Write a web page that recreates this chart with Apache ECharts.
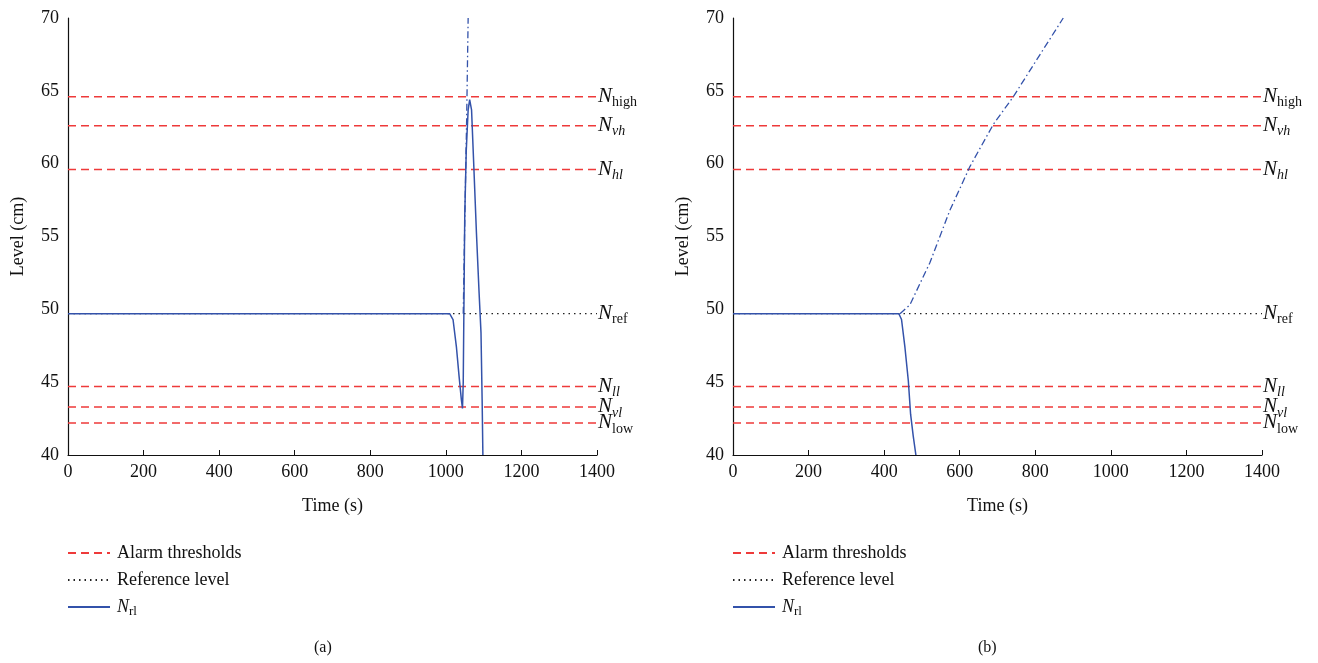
<!DOCTYPE html>
<html>
<head>
<meta charset="utf-8">
<script src="https://cdn.jsdelivr.net/npm/echarts@6/dist/echarts.min.js"></script>
<style>
  html, body { margin: 0; padding: 0; background: #fff; }
  #chart { width: 1318px; height: 663px; }
</style>
</head>
<body>
<div id="chart"></div>
<script>
// x ticks / y ticks
const timeTicks = [0, 1400, 200]
const levelTicks = [40, 70, 5]

// alarm thresholds (cm) and their subscripts
const thresholdLevels = [64.6, 62.6, 59.6, 44.7, 43.3, 42.2]
const thresholdNames = ['high', 'vh', 'hl', 'll', 'vl', 'low']
const thresholdItalic = [false, true, true, true, true, false]
const refLevel = 49.7

// panel (a): measured level N_rl
const levelA = [[0, 49.7], [1010, 49.7], [1019, 49.3], [1028, 47.4], [1035, 45.4], [1041, 43.8], [1044, 43.2],
  [1046, 45.0], [1050, 56.4], [1054, 60.9], [1059, 63.7], [1063, 64.4], [1068, 63.7], [1074, 59.8],
  [1081, 55.2], [1088, 51.1], [1093, 48.4], [1096, 43.8], [1098, 40]]
// panel (a): dash-dot trace
const traceA = [[1046, 49.7], [1050, 56], [1055, 63], [1059, 70]]

// panel (b): measured level N_rl
const levelB = [[0, 49.7], [439, 49.7], [446, 49.3], [455, 47.4], [464, 45.1], [470, 42.8], [477, 41.3], [484, 40]]
// panel (b): dash-dot trace
const traceB = [[442, 49.7], [468, 50.3], [521, 53.2], [574, 56.8], [627, 59.8], [689, 62.7], [742, 64.6],
  [803, 67.1], [874, 70]]

const FONT = '"Liberation Serif", "DejaVu Serif", serif'
const RED = '#ee3a3a'
const BLUE = '#3352aa'

const chart = echarts.init(document.getElementById('chart'))

const labelRich = {
  n: { fontFamily: FONT, fontSize: 21, fontStyle: 'italic', color: '#111' },
  s: { fontFamily: FONT, fontSize: 14, color: '#111', padding: [12, 0, 0, 0] },
  si: { fontFamily: FONT, fontSize: 14, fontStyle: 'italic', color: '#111', padding: [12, 0, 0, 0] }
}

function panelSeries(idx, level, trace) {
  const list = []
  thresholdLevels.forEach((v, i) => {
    list.push({
      name: 'Alarm thresholds',
      type: 'line',
      xAxisIndex: idx,
      yAxisIndex: idx,
      data: [[timeTicks[0], v], [timeTicks[1], v]],
      symbol: 'none',
      silent: true,
      lineStyle: { color: RED, width: 1.5, type: [8, 5] },
      itemStyle: { color: RED },
      endLabel: {
        show: true,
        distance: 1,
        formatter: '{n|N}{' + (thresholdItalic[i] ? 'si' : 's') + '|' + thresholdNames[i] + '}',
        rich: labelRich
      },
      z: 2
    })
  })
  list.push({
    name: 'Reference level',
    type: 'line',
    xAxisIndex: idx,
    yAxisIndex: idx,
    data: [[timeTicks[0], refLevel], [timeTicks[1], refLevel]],
    symbol: 'none',
    silent: true,
    lineStyle: { color: '#222', width: 1.3, type: [1.5, 4] },
    itemStyle: { color: '#222' },
    endLabel: { show: true, distance: 1, formatter: '{n|N}{s|ref}', rich: labelRich },
    z: 1
  })
  list.push({
    name: 'Nrl',
    type: 'line',
    xAxisIndex: idx,
    yAxisIndex: idx,
    data: level,
    symbol: 'none',
    lineStyle: { color: BLUE, width: 1.5 },
    itemStyle: { color: BLUE },
    z: 3
  })
  list.push({
    name: 'trace',
    type: 'line',
    xAxisIndex: idx,
    yAxisIndex: idx,
    data: trace,
    symbol: 'none',
    lineStyle: { color: BLUE, width: 1.3, type: [7, 3, 1.5, 3] },
    itemStyle: { color: BLUE },
    z: 3
  })
  return list
}

function xAxisOf(idx) {
  return {
    type: 'value',
    gridIndex: idx,
    min: timeTicks[0],
    max: timeTicks[1],
    interval: timeTicks[2],
    name: 'Time (s)',
    nameLocation: 'middle',
    nameGap: 42,
    nameTextStyle: { fontFamily: FONT, fontSize: 18, color: '#111' },
    axisLine: { onZero: false, lineStyle: { color: '#111', width: 1.2 } },
    axisTick: { inside: true, length: 5, lineStyle: { color: '#111' } },
    axisLabel: { fontFamily: FONT, fontSize: 18, color: '#111', margin: 8, formatter: v => String(v) },
    splitLine: { show: false }
  }
}

function yAxisOf(idx) {
  return {
    type: 'value',
    gridIndex: idx,
    min: levelTicks[0],
    max: levelTicks[1],
    interval: levelTicks[2],
    name: 'Level (cm)',
    nameLocation: 'middle',
    nameGap: 41,
    nameTextStyle: { fontFamily: FONT, fontSize: 18, color: '#111' },
    axisLine: { show: true, onZero: false, lineStyle: { color: '#111', width: 1.2 } },
    axisTick: { show: false },
    axisLabel: { fontFamily: FONT, fontSize: 18, color: '#111', margin: 9 },
    splitLine: { show: false }
  }
}

function legendOf(left) {
  return {
    left: left,
    top: 539,
    orient: 'vertical',
    itemWidth: 42,
    itemHeight: 12,
    itemGap: 9,
    selectedMode: false,
    data: ['Alarm thresholds', 'Reference level', 'Nrl'],
    itemStyle: { opacity: 0 },
    formatter: function (name) {
      return name === 'Nrl' ? '{n|N}{s|rl}' : name
    },
    textStyle: {
      fontFamily: FONT,
      fontSize: 18,
      color: '#111',
      padding: [0, 0, 0, 2],
      rich: {
        n: { fontFamily: FONT, fontSize: 18, fontStyle: 'italic', color: '#111' },
        s: { fontFamily: FONT, fontSize: 13, color: '#111', padding: [10, 0, 0, 0] }
      }
    }
  }
}

chart.setOption({
  animation: false,
  title: [
    { text: '(a)', left: 309, top: 635, textStyle: { fontFamily: FONT, fontSize: 16, fontWeight: 'normal', color: '#111' } },
    { text: '(b)', left: 973, top: 635, textStyle: { fontFamily: FONT, fontSize: 16, fontWeight: 'normal', color: '#111' } }
  ],
  legend: [legendOf(62), legendOf(727)],
  grid: [
    { left: 68, top: 18, width: 529, bottom: 208 },
    { left: 733, top: 18, width: 529, bottom: 208 }
  ],
  xAxis: [xAxisOf(0), xAxisOf(1)],
  yAxis: [yAxisOf(0), yAxisOf(1)],
  series: panelSeries(0, levelA, traceA).concat(panelSeries(1, levelB, traceB))
})
</script>
</body>
</html>
